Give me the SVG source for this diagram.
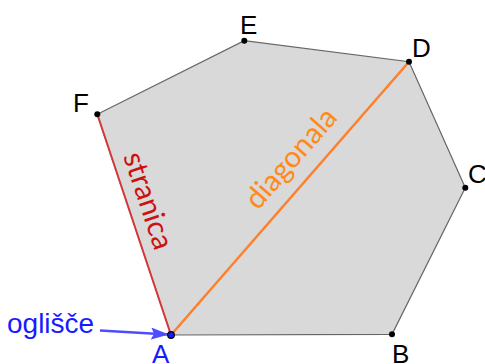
<svg xmlns="http://www.w3.org/2000/svg" width="485" height="364" viewBox="0 0 485 364">
<style>
.lbl{font-family:"Liberation Sans",Arial,sans-serif;font-size:26px;fill:#000}
.blue{fill:#1a1aff}
.pt{fill:#000}
.hum{font-family:Lato,"Open Sans",sans-serif;font-size:29.5px}
</style>
<defs>
<marker id="arr" markerWidth="18" markerHeight="12" refX="17" refY="6" orient="auto" markerUnits="userSpaceOnUse">
<path d="M0,0 L18,6 L0,12 L3,6 z" fill="#4d4dff"/>
</marker>
</defs>
<rect width="485" height="364" fill="#fff"/>
<g id="polygon">
<polygon points="171,335 392,334.3 465.3,187.7 409,61.7 244.3,40.7 97.3,114.3" fill="#d9d9d9" stroke="#666" stroke-width="1.2"/>
</g>
<g id="connectors">
<line id="stranica-line" x1="97.3" y1="114.3" x2="171" y2="335" stroke="#d43a3a" stroke-width="2"/>
<line id="diagonala-line" x1="171" y1="335" x2="409" y2="61.7" stroke="#ff7f2a" stroke-width="2.5"/>
<line id="arrow" x1="100" y1="330.5" x2="168" y2="334.5" stroke="#4d4dff" stroke-width="2.4" marker-end="url(#arr)"/>
</g>
<g id="stranica-label">
<text class="hum" fill="#cc1111" transform="translate(123,156) rotate(71.5)">stranica</text>
</g>
<g id="diagonala-label">
<text class="hum" fill="#ff8a1a" transform="translate(258,211) rotate(-48.9)">diagonala</text>
</g>
<g id="A"><circle cx="171" cy="335" r="3.3" fill="#1a1aff" stroke="#000" stroke-width="1.2"/><text class="lbl blue" x="152" y="363">A</text></g>
<g id="B"><circle cx="392" cy="334.3" r="3" class="pt"/><text class="lbl" x="392" y="363">B</text></g>
<g id="C"><circle cx="465.3" cy="187.7" r="3" class="pt"/><text class="lbl" x="468" y="183">C</text></g>
<g id="D"><circle cx="409" cy="61.7" r="3" class="pt"/><text class="lbl" x="412" y="57">D</text></g>
<g id="E"><circle cx="244.3" cy="40.7" r="3" class="pt"/><text class="lbl" x="240" y="34">E</text></g>
<g id="F"><circle cx="97.3" cy="114.3" r="3" class="pt"/><text class="lbl" x="73" y="112">F</text></g>
<g id="oglisce"><text class="lbl blue" x="7" y="333" style="font-size:28px">oglišče</text></g>
</svg>
